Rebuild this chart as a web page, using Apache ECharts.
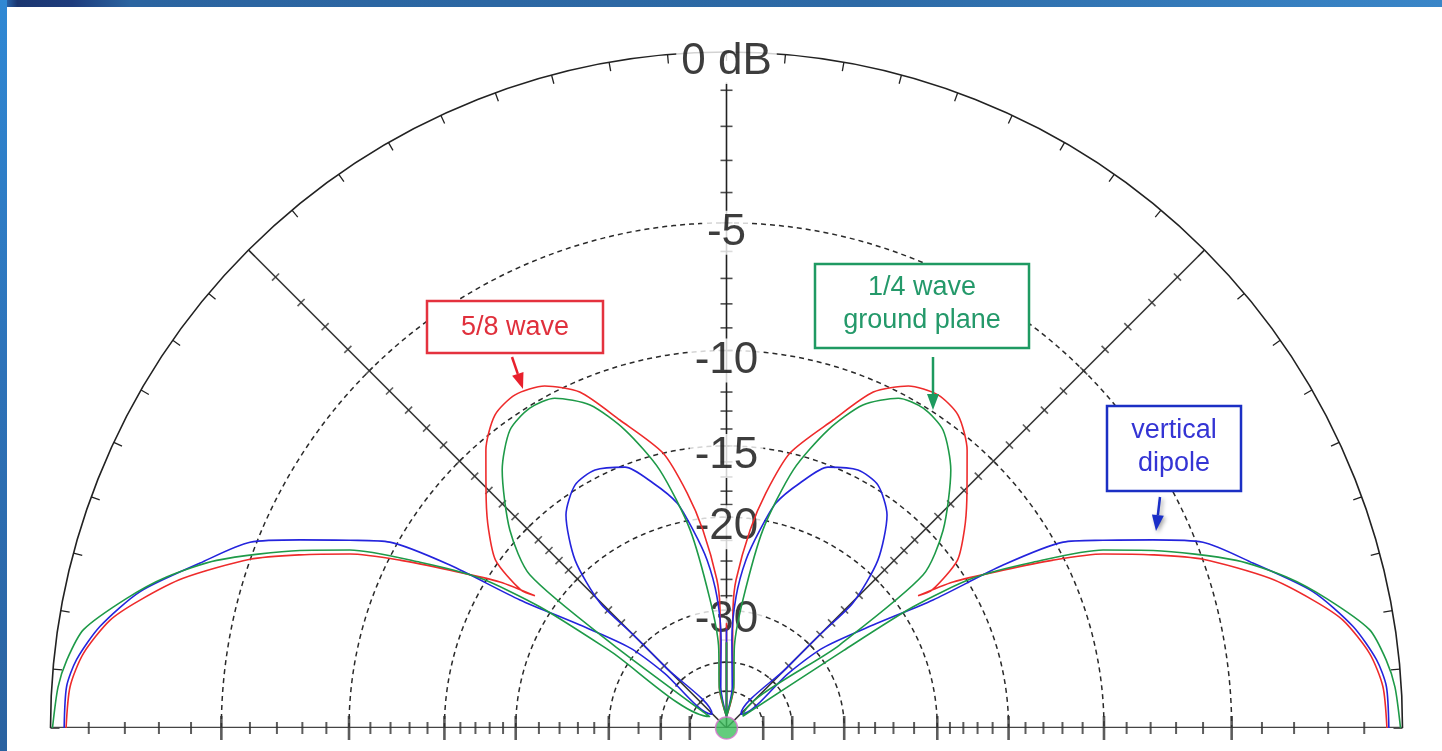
<!DOCTYPE html>
<html><head><meta charset="utf-8">
<script src="https://cdn.jsdelivr.net/npm/echarts@6/dist/echarts.min.js"></script>
<style>html,body{margin:0;padding:0;background:#fff;overflow:hidden}#c{width:1442px;height:751px;}</style>
</head><body><div id="c"></div>
<script>
// ---------------- data ----------------
// dB circles (dashed) and their labels
const ringLevels = [-5, -10, -15, -20, -30, -40, -50];
const labelLevels = [0, -5, -10, -15, -20, -30];
const labelTexts = ['0 dB', '-5', '-10', '-15', '-20', '-30'];
// radial tick positions (dB)
const minorTickDb = [-1,-2,-3,-4,-6,-7,-8,-9,-11,-12,-13,-14,-16,-17,-18,-19,-22,-24,-26,-28,-35];
const majorTickDb = [-5,-10,-15,-20,-30,-40,-50];
const diagonalAngles = [45, 135];

// Elevation patterns, left half (elevation deg 0 = horizon, 90 = zenith), values in dB
const redElev = [0, 3.6, 6.6, 9.9, 12.3, 15.4, 19.5, 22.1, 24.8, 27.2, 29.7, 32.8, 34.6, 33.9, 36.0, 39.8, 43.5, 49.1, 53.5, 57.6, 62.0, 66.4, 70.9, 77.0, 80.5, 83.2, 86.3, 86.9, 85.5, 80, 89.7, 90];
const redDb   = [-0.4, -0.47, -0.74, -1.32, -2.04, -3.12, -4.99, -6.6, -8.38, -10.47, -12.92, -15.78, -18.3, -17.2, -14.8, -13.4, -12.24, -10.46, -9.47, -9.24, -9.56, -10.5, -12.52, -14.99, -17.9, -20.95, -26.0, -29.5, -37, -48, -70, -32];

const greenElev = [0, 3.5, 5.9, 8.7, 12.2, 15.1, 18.2, 22.6, 25.3, 28.4, 31.3, 33.0, 33.5, 34.0, 35.8, 36.3, 37.9, 42.4, 49.0, 54.0, 58.4, 62.5, 67.1, 71.2, 75.5, 79.6, 82.7, 84.5, 80, 89.7, 90];
const greenDb   = [-0.05, -0.16, -0.33, -0.66, -1.66, -2.63, -3.96, -6.53, -8.31, -11.37, -14.61, -19.1, -27, -60, -60, -27, -17.14, -14.33, -11.7, -10.42, -10.09, -10.26, -11.27, -13.12, -15.98, -20.8, -28.4, -36, -48, -70, -35.5];

const blueElev = [0, 3.6, 6.0, 9.2, 13.1, 17.4, 21.3, 23.8, 26.5, 28.9, 30.5, 31.8, 35.1, 39.7, 41.5, 42.5, 44.5, 45.0, 45.0, 44.7, 47.95, 53.0, 58.1, 63.0, 68.75, 73.3, 77.6, 80.4, 83.4, 85.85, 86.5, 82, 89.7, 90];
const blueDb   = [-0.35, -0.38, -0.58, -1.08, -1.99, -3.49, -4.79, -6.38, -8.14, -9.68, -12.78, -17.56, -22.8, -28.9, -36, -60, -60, -36, -28, -22.9, -18.8, -15.96, -14.74, -14.55, -15.13, -16.68, -18.48, -20.83, -23.78, -28.1, -35, -48, -70, -33];

// ---------------- helpers ----------------
// ARRL log-periodic scale: 0.89 per 2 dB
function dbToR(db) { return Math.pow(0.89, -db / 2); }
function fullPattern(elev, db) {
  const pts = elev.map((e, i) => [dbToR(db[i]), e]);
  for (let i = elev.length - 2; i >= 0; i--) pts.push([dbToR(db[i]), 180 - elev[i]]);
  return pts;
}
function arc(r) { const d = []; for (let a = 0; a <= 180; a += 1) d.push([r, a]); return d; }

const FONT = '"Liberation Sans", Arial, sans-serif';
const series = [];

// dashed dB circles
ringLevels.forEach(lv => series.push({
  type: 'line', coordinateSystem: 'polar', data: arc(dbToR(lv)), showSymbol: false, silent: true, z: 1,
  lineStyle: { color: '#2a2a2a', width: 1.5, type: [5, 4] }
}));
// radial lines
series.push({ type: 'line', coordinateSystem: 'polar', data: [[1, 0], [0, 0], [1, 180]], showSymbol: false, silent: true, z: 1,
  lineStyle: { color: '#444', width: 2.5 } });
diagonalAngles.forEach(a => series.push({ type: 'line', coordinateSystem: 'polar', data: [[0, a], [1, a]], showSymbol: false, silent: true, z: 1,
  lineStyle: { color: '#333', width: 1.6 } }));
series.push({ type: 'line', coordinateSystem: 'polar', data: [[0, 90], [0.955, 90]], showSymbol: false, silent: true, z: 1,
  lineStyle: { color: '#222', width: 1.6 } });

// tick marks along radial lines
function tickSeries(angles, dbs, size, color) {
  const data = [];
  angles.forEach(a => dbs.forEach(d => data.push({ value: [dbToR(d), a], symbolRotate: -a })));
  return { type: 'scatter', coordinateSystem: 'polar', data, symbol: 'rect', symbolSize: size, silent: true, z: 1,
    itemStyle: { color: color } };
}
series.push(tickSeries([0, 180], minorTickDb, [2, 12], '#333'));
series.push(tickSeries([0, 180], majorTickDb, [2.6, 24], '#333'));
series.push(tickSeries(diagonalAngles, minorTickDb.concat(majorTickDb), [1.6, 10], '#333'));
series.push(tickSeries([90], minorTickDb.concat(majorTickDb), [1.6, 12], '#222'));

// dB labels on the vertical axis
series.push({
  type: 'scatter', coordinateSystem: 'polar', symbolSize: 1, silent: true, z: 3,
  itemStyle: { color: 'rgba(0,0,0,0)' },
  data: labelLevels.map((lv, i) => ({ value: [dbToR(lv), 90], name: labelTexts[i] })),
  label: { show: true, position: 'inside', offset: [0, 10], formatter: p => p.name,
    fontFamily: FONT, fontSize: 44, color: '#0d0d0d', backgroundColor: '#fff', padding: [0, 5] }
});

// antenna patterns
const curves = [
  ['5/8 wave', redElev, redDb, '#ee2b2b'],
  ['vertical dipole', blueElev, blueDb, '#2424dd'],
  ['1/4 wave ground plane', greenElev, greenDb, '#1e9a48']
];
curves.forEach(([name, e, d, c]) => series.push({
  name, type: 'line', coordinateSystem: 'polar', data: fullPattern(e, d), showSymbol: false, smooth: 0.25,
  z: 4, lineStyle: { color: c, width: 1.6 }
}));
// antenna marker
series.push({ type: 'scatter', coordinateSystem: 'polar', data: [[0, 90]], symbolSize: 22, z: 5, silent: true,
  itemStyle: { color: '#3cbf5c', borderColor: '#d874d0', borderWidth: 1.5 } });

// ---------------- annotations ----------------
function arrow(x1, y1, x2, y2, color, shadow) {
  const ang = Math.atan2(y2 - y1, x2 - x1), L = 16, W = 6;
  const bx = x2 - L * Math.cos(ang), by = y2 - L * Math.sin(ang);
  const px = -Math.sin(ang) * W, py = Math.cos(ang) * W;
  const sh = shadow ? { shadowBlur: 4, shadowColor: 'rgba(0,0,0,0.35)', shadowOffsetX: 2, shadowOffsetY: 2 } : {};
  return [
    { type: 'line', z: 10, shape: { x1, y1, x2: bx, y2: by }, style: Object.assign({ stroke: color, lineWidth: 2.5 }, sh) },
    { type: 'polygon', z: 10, shape: { points: [[x2, y2], [bx + px, by + py], [bx - px, by - py]] }, style: Object.assign({ fill: color }, sh) }
  ];
}
function box(x, y, w, h, color) {
  return { type: 'rect', z: 10, shape: { x, y, width: w, height: h }, style: { fill: '#fff', stroke: color, lineWidth: 2.5 } };
}
function txt(s, x, y, color) {
  return { type: 'text', z: 11, style: { text: s, x, y, fill: color, font: '27px ' + FONT, align: 'center', verticalAlign: 'middle', textAlign: 'center', textVerticalAlign: 'middle' } };
}
const graphics = [
  { type: 'rect', z: 20, shape: { x: 0, y: 0, width: 1442, height: 7 },
    style: { fill: new echarts.graphic.LinearGradient(0, 0, 1, 0, [
      { offset: 0, color: '#2f7fcc' }, { offset: 0.012, color: '#1b3670' }, { offset: 0.05, color: '#1e3c7c' },
      { offset: 0.09, color: '#2b64a0' }, { offset: 0.6, color: '#2d6aa6' }, { offset: 1, color: '#3a86c8' }]) } },
  { type: 'rect', z: 20, shape: { x: 0, y: 0, width: 7, height: 751 },
    style: { fill: new echarts.graphic.LinearGradient(0, 0, 0, 1, [
      { offset: 0, color: '#2f88d4' }, { offset: 0.5, color: '#2d72b8' }, { offset: 1, color: '#2a62a0' }]) } },
  box(427, 301, 176, 52, '#e4323e'), txt('5/8 wave', 515, 328, '#e0303c'),
  box(815, 264, 214, 84, '#1f9a62'), txt('1/4 wave', 922, 288, '#24996a'), txt('ground plane', 922, 321, '#24996a'),
  box(1107, 406, 134, 85, '#1b2fc4'), txt('vertical', 1174, 431, '#3434d4'), txt('dipole', 1174, 464, '#3434d4')
].concat(arrow(512, 357, 523, 389, '#e8202c', false))
 .concat(arrow(933, 357, 933, 410, '#1d9a5e', false))
 .concat(arrow(1160, 497, 1156, 531, '#1a2fc8', true));

const chart = echarts.init(document.getElementById('c'), null, { renderer: 'canvas' });
chart.setOption({
  backgroundColor: '#fff',
  animation: false,
  polar: { center: [726.5, 728], radius: 676 },
  angleAxis: {
    type: 'value', min: 0, max: 180, startAngle: 180, endAngle: 0, clockwise: true, interval: 5,
    axisLine: { show: true, lineStyle: { color: '#222', width: 1.6 } },
    axisTick: { show: true, inside: true, length: 9, lineStyle: { color: '#222', width: 1.3 } },
    axisLabel: { show: false }, splitLine: { show: false }
  },
  radiusAxis: { type: 'value', min: 0, max: 1, show: false, splitLine: { show: false } },
  series,
  graphic: graphics
});
</script></body></html>
